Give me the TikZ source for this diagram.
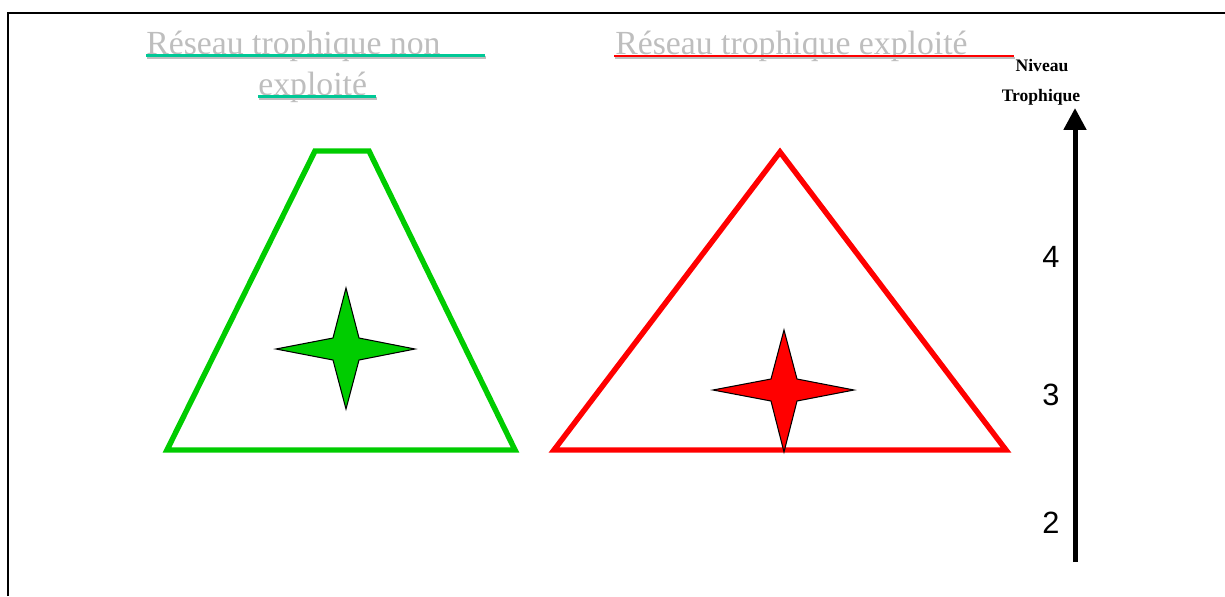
\documentclass[tikz,border=0pt]{standalone}
\usepackage{fontspec}
\setmainfont{Liberation Serif}
\newfontfamily\chiffres{Liberation Sans}
\usetikzlibrary{arrows.meta,positioning}
\definecolor{VertReseau}{HTML}{00CC00}
\definecolor{RougeReseau}{HTML}{FF0000}
\definecolor{GrisTitre}{HTML}{BEBEBE}
\definecolor{VertSouligne}{HTML}{00C896}

\begin{document}
\begin{tikzpicture}[
    x=0.02cm,y=-0.02cm,
    titre/.style={text=GrisTitre,font=\fontsize{19.2}{22}\selectfont,inner sep=0pt,anchor=base west},
    ombre/.style={draw=GrisTitre,line width=1.6pt},
    niveau/.style={font=\bfseries\fontsize{10}{12}\selectfont,inner sep=0pt,anchor=base},
    chiffre/.style={font=\chiffres\fontsize{17.5}{20}\selectfont,inner sep=0pt,anchor=base},
    bord/.style={line width=3.1pt,line join=miter},
    etoile/.style={draw=black,line width=0.6pt,line join=miter}
  ]
  \useasboundingbox (0,0) rectangle (1225,596);
  % cadre
  \draw[line width=1.2pt] (8,596) -- (8,13) -- (1225,13);

  % titres
  \node[titre] (titreA) at (146,54) {Réseau trophique non};
  \node[titre] (titreB) at (258,95) {exploité};
  \node[titre] (titreC) at (615,54) {Réseau trophique exploité};
  \draw[ombre] (147,57.5) -- (486,57.5);
  \draw[VertSouligne,line width=1.4pt] (146,55.5) -- (485,55.5);
  \draw[ombre] (259,98.5) -- (377,98.5);
  \draw[VertSouligne,line width=1.4pt] (258,96.5) -- (376,96.5);
  \draw[ombre] (615,58) -- (1015,58);
  \draw[RougeReseau,line width=1.1pt] (614,56) -- (1014,56);

  % reseau non exploite
  \draw[VertReseau,bord] (167,450) -- (315,151) -- (369,151) -- (515,450) -- cycle;
  \filldraw[etoile,fill=VertReseau,shift={(346,349)}]
    (0,-61) -- (13,-11) -- (69,0) -- (13,11) -- (0,60) -- (-13,11) -- (-70,0) -- (-13,-11) -- cycle;

  % reseau exploite
  \draw[RougeReseau,bord] (554,450) -- (780,152) -- (1006,450) -- cycle;
  \filldraw[etoile,fill=RougeReseau,shift={(784,390)}]
    (0,-60) -- (13,-11) -- (70,0) -- (13,11) -- (0,62) -- (-13,11) -- (-71,0) -- (-13,-11) -- cycle;

  % axe des niveaux
  \node[niveau] (niv) at (1042,71) {Niveau};
  \node[niveau] (tro) at (1041,101) {Trophique};
  \coordinate (bas) at (1075,562);
  \coordinate (haut) at (1075,108);
  \draw[line width=2.85pt,-{Triangle[length=12.5pt,width=12.5pt]}] (bas) -- (haut);
  \node[chiffre] (n4) at (1051,267) {4};
  \node[chiffre] (n3) at (1051,405) {3};
  \node[chiffre] (n2) at (1051,533) {2};
\end{tikzpicture}
\end{document}
